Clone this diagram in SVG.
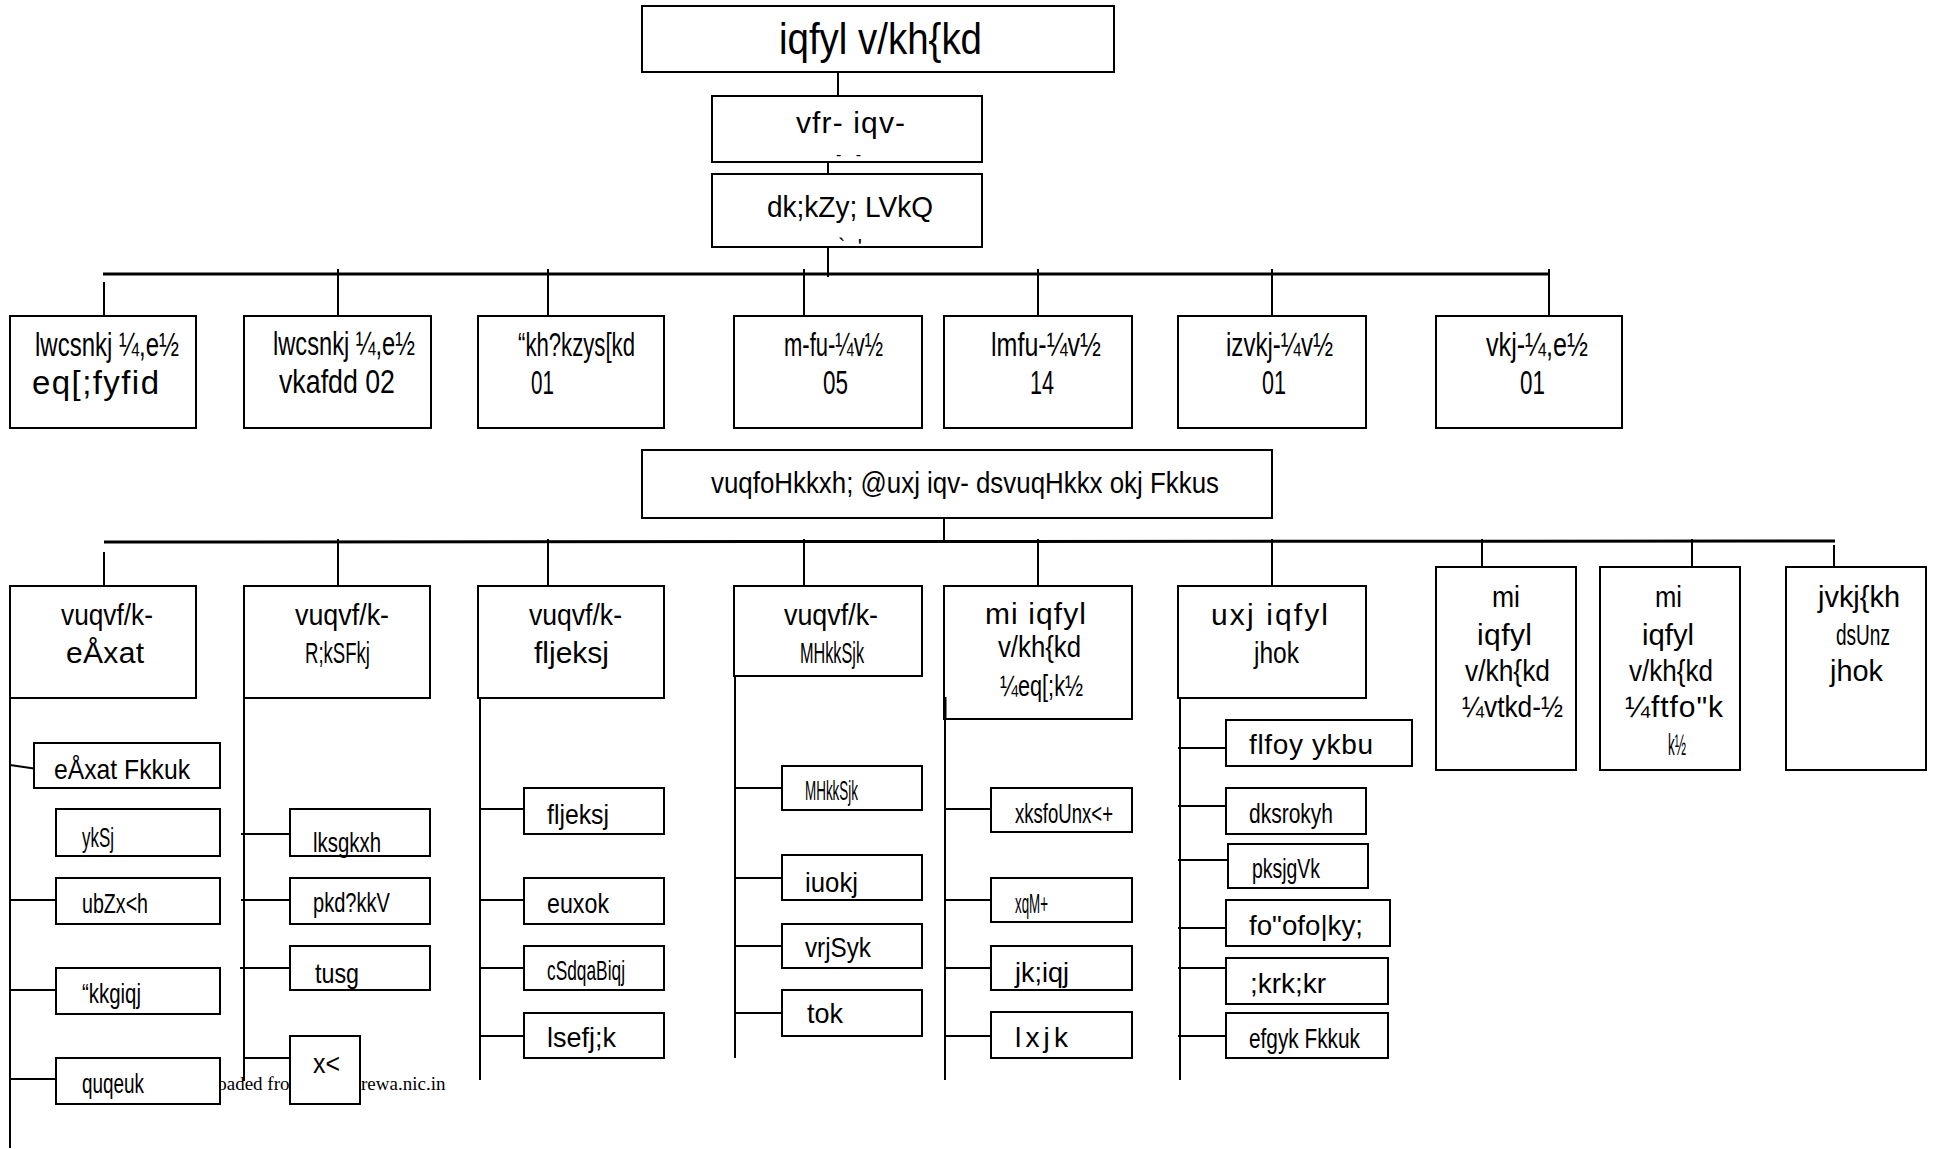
<svg xmlns="http://www.w3.org/2000/svg" width="1938" height="1149" viewBox="0 0 1938 1149">
<style>
.box{fill:#fff;stroke:#000;stroke-width:2}
.ln{stroke:#000;stroke-width:2;fill:none}
.bus{stroke:#000;stroke-width:3;fill:none}
text{font-family:"Liberation Sans",Arial,sans-serif;fill:#000}
.f44{font-size:44px}.f30{font-size:30px}.f33{font-size:33px}.f28{font-size:28px}
.wm{font-family:"Liberation Serif","Times New Roman",serif;font-size:19px}
</style>
<rect x="0" y="0" width="1938" height="1149" fill="#fff"/>
<g id="connectors">
<line class="ln" x1="838" y1="72" x2="838" y2="96"/>
<line class="ln" x1="828" y1="162" x2="828" y2="174"/>
<line class="ln" x1="828" y1="247" x2="828" y2="277"/>
<line class="bus" x1="103" y1="274" x2="1549" y2="274"/>
<line class="ln" x1="104" y1="282" x2="104" y2="316"/>
<line class="ln" x1="338" y1="269" x2="338" y2="316"/>
<line class="ln" x1="548" y1="269" x2="548" y2="316"/>
<line class="ln" x1="804" y1="269" x2="804" y2="316"/>
<line class="ln" x1="1038" y1="269" x2="1038" y2="316"/>
<line class="ln" x1="1272" y1="269" x2="1272" y2="316"/>
<line class="ln" x1="1549" y1="269" x2="1549" y2="316"/>
<line class="ln" x1="944" y1="518" x2="944" y2="543"/>
<line class="bus" x1="104" y1="542" x2="1835" y2="541"/>
<line class="ln" x1="104" y1="552" x2="104" y2="586"/>
<line class="ln" x1="338" y1="539" x2="338" y2="586"/>
<line class="ln" x1="548" y1="539" x2="548" y2="586"/>
<line class="ln" x1="804" y1="539" x2="804" y2="586"/>
<line class="ln" x1="1038" y1="539" x2="1038" y2="586"/>
<line class="ln" x1="1272" y1="539" x2="1272" y2="586"/>
<line class="ln" x1="1482" y1="539" x2="1482" y2="567"/>
<line class="ln" x1="1692" y1="539" x2="1692" y2="567"/>
<line class="ln" x1="1834" y1="545" x2="1834" y2="567"/>
<line class="ln" x1="10" y1="698" x2="10" y2="1148"/>
<line class="ln" x1="10" y1="765" x2="34" y2="768.5"/>
<line class="ln" x1="10" y1="900" x2="56" y2="900"/>
<line class="ln" x1="10" y1="990" x2="56" y2="990"/>
<line class="ln" x1="10" y1="1079" x2="56" y2="1079"/>
<line class="ln" x1="244" y1="698" x2="244" y2="1081"/>
<line class="ln" x1="241" y1="834" x2="290" y2="834"/>
<line class="ln" x1="241" y1="900" x2="290" y2="900"/>
<line class="ln" x1="240" y1="968" x2="290" y2="968"/>
<line class="ln" x1="244" y1="1058" x2="290" y2="1058"/>
<line class="ln" x1="480" y1="698" x2="480" y2="1080"/>
<line class="ln" x1="479" y1="809" x2="524" y2="809"/>
<line class="ln" x1="479" y1="900" x2="524" y2="900"/>
<line class="ln" x1="479" y1="968" x2="524" y2="968"/>
<line class="ln" x1="479" y1="1036" x2="524" y2="1036"/>
<line class="ln" x1="735" y1="676" x2="735" y2="1058"/>
<line class="ln" x1="735" y1="788" x2="782" y2="788"/>
<line class="ln" x1="735" y1="878" x2="782" y2="878"/>
<line class="ln" x1="735" y1="946" x2="782" y2="946"/>
<line class="ln" x1="735" y1="1013" x2="782" y2="1013"/>
<line class="ln" x1="945" y1="697" x2="945" y2="1080"/>
<line class="ln" x1="945" y1="809" x2="991" y2="809"/>
<line class="ln" x1="945" y1="900" x2="991" y2="900"/>
<line class="ln" x1="945" y1="968" x2="991" y2="968"/>
<line class="ln" x1="945" y1="1036" x2="991" y2="1036"/>
<line class="ln" x1="1180" y1="698" x2="1180" y2="1080"/>
<line class="ln" x1="1178" y1="748" x2="1226" y2="748"/>
<line class="ln" x1="1178" y1="806" x2="1226" y2="806"/>
<line class="ln" x1="1178" y1="860" x2="1228" y2="860"/>
<line class="ln" x1="1178" y1="928" x2="1226" y2="928"/>
<line class="ln" x1="1178" y1="968" x2="1226" y2="968"/>
<line class="ln" x1="1178" y1="1036" x2="1226" y2="1036"/>
</g>
<text class="wm" x="165.5" y="1090"><tspan>Downloaded from</tspan><tspan x="361">rewa.nic.in</tspan></text>
<g id="n-sp"><rect class="box" x="642" y="6" width="472" height="66"/><text class="f44" x="779" y="54" textLength="203" lengthAdjust="spacingAndGlyphs">iqfyl v/kh{kd</text></g>
<g id="n-asp"><rect class="box" x="712" y="96" width="270" height="66"/><text class="f30" x="796" y="133" textLength="109" lengthAdjust="spacing">vfr- iqv-</text><text x="836" y="160" font-size="16" textLength="25" lengthAdjust="spacing">- -</text></g>
<g id="n-office"><rect class="box" x="712" y="174" width="270" height="73"/><text class="f30" x="767" y="217" textLength="166" lengthAdjust="spacingAndGlyphs">dk;kZy; LVkQ</text><text x="838" y="254" font-size="22" textLength="24" lengthAdjust="spacing">` '</text></g>
<g id="n-r1-1"><rect class="box" x="10" y="316" width="186" height="112"/><text class="f33" x="35" y="356" textLength="144" lengthAdjust="spacingAndGlyphs">lwcsnkj ¼,e½</text><text class="f33" x="32" y="394" textLength="127" lengthAdjust="spacing">eq[;fyfid</text></g>
<g id="n-r1-2"><rect class="box" x="244" y="316" width="187" height="112"/><text class="f33" x="273" y="355" textLength="142" lengthAdjust="spacingAndGlyphs">lwcsnkj ¼,e½</text><text class="f33" x="279" y="393" textLength="116" lengthAdjust="spacingAndGlyphs">vkafdd 02</text></g>
<g id="n-r1-3"><rect class="box" x="478" y="316" width="186" height="112"/><text class="f33" x="518" y="356" textLength="117" lengthAdjust="spacingAndGlyphs">“kh?kzys[kd</text><text class="f33" x="531" y="394" textLength="23" lengthAdjust="spacingAndGlyphs">01</text></g>
<g id="n-r1-4"><rect class="box" x="734" y="316" width="188" height="112"/><text class="f33" x="784" y="356" textLength="99" lengthAdjust="spacingAndGlyphs">m-fu-¼v½</text><text class="f33" x="823" y="394" textLength="25" lengthAdjust="spacingAndGlyphs">05</text></g>
<g id="n-r1-5"><rect class="box" x="944" y="316" width="188" height="112"/><text class="f33" x="991" y="356" textLength="110" lengthAdjust="spacingAndGlyphs">lmfu-¼v½</text><text class="f33" x="1030" y="394" textLength="24" lengthAdjust="spacingAndGlyphs">14</text></g>
<g id="n-r1-6"><rect class="box" x="1178" y="316" width="188" height="112"/><text class="f33" x="1226" y="356" textLength="107" lengthAdjust="spacingAndGlyphs">izvkj-¼v½</text><text class="f33" x="1262" y="394" textLength="24" lengthAdjust="spacingAndGlyphs">01</text></g>
<g id="n-r1-7"><rect class="box" x="1436" y="316" width="186" height="112"/><text class="f33" x="1486" y="356" textLength="102" lengthAdjust="spacingAndGlyphs">vkj-¼,e½</text><text class="f33" x="1520" y="394" textLength="25" lengthAdjust="spacingAndGlyphs">01</text></g>
<g id="n-mid"><rect class="box" x="642" y="450" width="630" height="68"/><text class="f30" x="711" y="493" textLength="508" lengthAdjust="spacingAndGlyphs">vuqfoHkkxh; @uxj iqv- dsvuqHkkx okj Fkkus</text></g>
<g id="n-r2-1"><rect class="box" x="10" y="586" width="186" height="112"/><text class="f30" x="61" y="625" textLength="92" lengthAdjust="spacingAndGlyphs">vuqvf/k-</text><text class="f30" x="66" y="663" textLength="78" lengthAdjust="spacing">eÅxat</text></g>
<g id="n-r2-2"><rect class="box" x="244" y="586" width="186" height="112"/><text class="f30" x="295" y="625" textLength="94" lengthAdjust="spacingAndGlyphs">vuqvf/k-</text><text class="f30" x="305" y="663" textLength="65" lengthAdjust="spacingAndGlyphs">R;kSFkj</text></g>
<g id="n-r2-3"><rect class="box" x="478" y="586" width="186" height="112"/><text class="f30" x="529" y="625" textLength="93" lengthAdjust="spacingAndGlyphs">vuqvf/k-</text><text class="f30" x="534" y="663" textLength="75" lengthAdjust="spacing">fljeksj</text></g>
<g id="n-r2-4"><rect class="box" x="734" y="586" width="188" height="90"/><text class="f30" x="784" y="625" textLength="94" lengthAdjust="spacingAndGlyphs">vuqvf/k-</text><text class="f30" x="800" y="663" textLength="64" lengthAdjust="spacingAndGlyphs">MHkkSjk</text></g>
<g id="n-r2-5"><rect class="box" x="944" y="586" width="188" height="133"/><line class="bus" x1="945" y1="697" x2="945" y2="719"/><text class="f30" x="985" y="624" textLength="101" lengthAdjust="spacing">mi iqfyl</text><text class="f30" x="998" y="657" textLength="83" lengthAdjust="spacingAndGlyphs">v/kh{kd</text><text class="f30" x="1000" y="696" textLength="83" lengthAdjust="spacingAndGlyphs">¼eq[;k½</text></g>
<g id="n-r2-6"><rect class="box" x="1178" y="586" width="188" height="112"/><text class="f30" x="1211" y="625" textLength="117" lengthAdjust="spacing">uxj iqfyl</text><text class="f30" x="1254" y="663" textLength="45" lengthAdjust="spacingAndGlyphs">jhok</text></g>
<g id="n-r2-7"><rect class="box" x="1436" y="567" width="140" height="203"/><text class="f30" x="1492" y="607" textLength="28" lengthAdjust="spacingAndGlyphs">mi</text><text class="f30" x="1477" y="645" textLength="55" lengthAdjust="spacing">iqfyl</text><text class="f30" x="1465" y="681" textLength="85" lengthAdjust="spacingAndGlyphs">v/kh{kd</text><text class="f30" x="1462" y="717" textLength="101" lengthAdjust="spacingAndGlyphs">¼vtkd-½</text></g>
<g id="n-r2-8"><rect class="box" x="1600" y="567" width="140" height="203"/><text class="f30" x="1655" y="607" textLength="27" lengthAdjust="spacingAndGlyphs">mi</text><text class="f30" x="1642" y="645" textLength="52" lengthAdjust="spacingAndGlyphs">iqfyl</text><text class="f30" x="1629" y="681" textLength="84" lengthAdjust="spacingAndGlyphs">v/kh{kd</text><text class="f30" x="1625" y="717" textLength="98" lengthAdjust="spacing">¼ftfo"k</text><text class="f30" x="1668" y="755" textLength="18" lengthAdjust="spacingAndGlyphs">k½</text></g>
<g id="n-r2-9"><rect class="box" x="1786" y="567" width="140" height="203"/><text class="f30" x="1818" y="607" textLength="82" lengthAdjust="spacingAndGlyphs">jvkj{kh</text><text class="f30" x="1836" y="645" textLength="54" lengthAdjust="spacingAndGlyphs">dsUnz</text><text class="f30" x="1830" y="681" textLength="53" lengthAdjust="spacingAndGlyphs">jhok</text></g>
<g id="n-c1-1"><rect class="box" x="34" y="743" width="186" height="45"/><text class="f28" x="54" y="779" textLength="136" lengthAdjust="spacingAndGlyphs">eÅxat Fkkuk</text></g>
<g id="n-c1-2"><rect class="box" x="56" y="809" width="164" height="47"/><text class="f28" x="82" y="847" textLength="32" lengthAdjust="spacingAndGlyphs">ykSj</text></g>
<g id="n-c1-3"><rect class="box" x="56" y="878" width="164" height="46"/><text class="f28" x="82" y="913" textLength="66" lengthAdjust="spacingAndGlyphs">ubZx&lt;h</text></g>
<g id="n-c1-4"><rect class="box" x="56" y="968" width="164" height="46"/><text class="f28" x="82" y="1003" textLength="59" lengthAdjust="spacingAndGlyphs">“kkgiqj</text></g>
<g id="n-c1-5"><rect class="box" x="56" y="1058" width="164" height="46"/><text class="f28" x="82" y="1093" textLength="62" lengthAdjust="spacingAndGlyphs">quqeuk</text></g>
<g id="n-c2-1"><rect class="box" x="290" y="809" width="140" height="47"/><text class="f28" x="313" y="852" textLength="68" lengthAdjust="spacingAndGlyphs">lksgkxh</text></g>
<g id="n-c2-2"><rect class="box" x="290" y="878" width="140" height="46"/><text class="f28" x="313" y="912" textLength="77" lengthAdjust="spacingAndGlyphs">pkd?kkV</text></g>
<g id="n-c2-3"><rect class="box" x="290" y="946" width="140" height="44"/><text class="f28" x="315" y="983" textLength="44" lengthAdjust="spacingAndGlyphs">tusg</text></g>
<g id="n-c2-4"><rect class="box" x="290" y="1036" width="70" height="68"/><text class="f28" x="313" y="1073" textLength="27" lengthAdjust="spacingAndGlyphs">x&lt;</text></g>
<g id="n-c3-1"><rect class="box" x="524" y="788" width="140" height="46"/><text class="f28" x="547" y="824" textLength="62" lengthAdjust="spacingAndGlyphs">fljeksj</text></g>
<g id="n-c3-2"><rect class="box" x="524" y="878" width="140" height="46"/><text class="f28" x="547" y="913" textLength="62" lengthAdjust="spacingAndGlyphs">euxok</text></g>
<g id="n-c3-3"><rect class="box" x="524" y="946" width="140" height="44"/><text class="f28" x="547" y="980" textLength="78" lengthAdjust="spacingAndGlyphs">cSdqaBiqj</text></g>
<g id="n-c3-4"><rect class="box" x="524" y="1013" width="140" height="45"/><text class="f28" x="547" y="1047" textLength="69" lengthAdjust="spacingAndGlyphs">lsefj;k</text></g>
<g id="n-c4-1"><rect class="box" x="782" y="766" width="140" height="44"/><text class="f28" x="805" y="800" textLength="53" lengthAdjust="spacingAndGlyphs">MHkkSjk</text></g>
<g id="n-c4-2"><rect class="box" x="782" y="855" width="140" height="45"/><text class="f28" x="805" y="892" textLength="53" lengthAdjust="spacingAndGlyphs">iuokj</text></g>
<g id="n-c4-3"><rect class="box" x="782" y="924" width="140" height="44"/><text class="f28" x="805" y="957" textLength="66" lengthAdjust="spacingAndGlyphs">vrjSyk</text></g>
<g id="n-c4-4"><rect class="box" x="782" y="990" width="140" height="46"/><text class="f28" x="807" y="1023" textLength="36" lengthAdjust="spacingAndGlyphs">tok</text></g>
<g id="n-c5-1"><rect class="box" x="991" y="788" width="141" height="44"/><text class="f28" x="1015" y="823" textLength="98" lengthAdjust="spacingAndGlyphs">xksfoUnx&lt;+</text></g>
<g id="n-c5-2"><rect class="box" x="991" y="878" width="141" height="44"/><text class="f28" x="1015" y="913" textLength="33" lengthAdjust="spacingAndGlyphs">xqM+</text></g>
<g id="n-c5-3"><rect class="box" x="991" y="946" width="141" height="44"/><text class="f28" x="1015" y="982" textLength="54" lengthAdjust="spacingAndGlyphs">jk;iqj</text></g>
<g id="n-c5-4"><rect class="box" x="991" y="1012" width="141" height="46"/><text class="f28" x="1015" y="1047" textLength="53" lengthAdjust="spacing">lxjk</text></g>
<g id="n-c6-1"><rect class="box" x="1226" y="720" width="186" height="46"/><text class="f28" x="1249" y="754" textLength="124" lengthAdjust="spacing">flfoy ykbu</text></g>
<g id="n-c6-2"><rect class="box" x="1226" y="788" width="140" height="46"/><text class="f28" x="1249" y="823" textLength="84" lengthAdjust="spacingAndGlyphs">dksrokyh</text></g>
<g id="n-c6-3"><rect class="box" x="1228" y="844" width="140" height="44"/><text class="f28" x="1252" y="878" textLength="68" lengthAdjust="spacingAndGlyphs">pksjgVk</text></g>
<g id="n-c6-4"><rect class="box" x="1226" y="900" width="164" height="46"/><text class="f28" x="1249" y="935" textLength="114" lengthAdjust="spacingAndGlyphs">fo"ofo|ky;</text></g>
<g id="n-c6-5"><rect class="box" x="1226" y="958" width="162" height="46"/><text class="f28" x="1250" y="993" textLength="76" lengthAdjust="spacingAndGlyphs">;krk;kr</text></g>
<g id="n-c6-6"><rect class="box" x="1226" y="1013" width="162" height="45"/><text class="f28" x="1249" y="1048" textLength="111" lengthAdjust="spacingAndGlyphs">efgyk Fkkuk</text></g>
</svg>
